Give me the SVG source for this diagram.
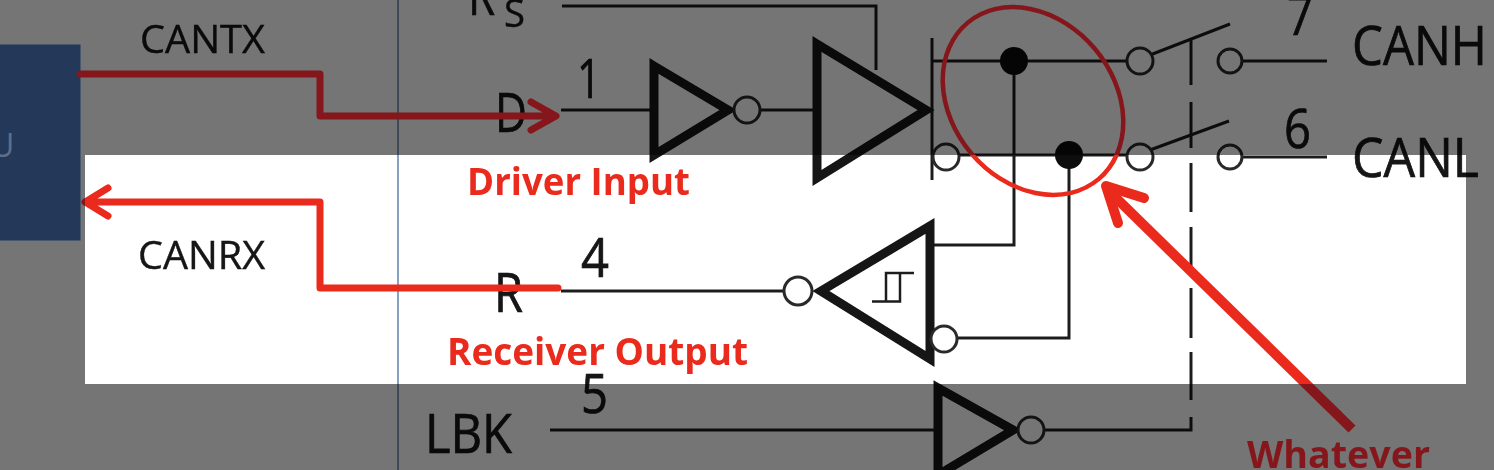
<svg xmlns="http://www.w3.org/2000/svg" xmlns:xlink="http://www.w3.org/1999/xlink" width="1494" height="470" viewBox="0 0 1494 470">
<style>
.t{font-family:"Open Sans","Liberation Sans",sans-serif;fill:#141414;stroke:#141414;stroke-width:.7;font-size:54px}
.s{font-size:39px;stroke-width:.4}
.r{font-family:"Open Sans","Liberation Sans",sans-serif;font-weight:700;font-size:38px;fill:currentColor}
.w{fill:none;stroke:#1e1e1e;stroke-width:3}
.g{fill:none;stroke:#141414;stroke-width:9;stroke-linejoin:miter}
.b{fill:#fff;stroke:#2a2a2a;stroke-width:3}
.d{fill:#111}
.a{fill:none;stroke:currentColor;stroke-width:7;stroke-linejoin:round;stroke-linecap:round}
</style>
<defs>
<filter id="soft" x="0" y="0" width="1" height="1" filterUnits="objectBoundingBox"><feGaussianBlur stdDeviation="0.7"/></filter>
<clipPath id="win"><rect x="85" y="155" width="1381" height="229"/></clipPath>
<clipPath id="out"><path clip-rule="evenodd" d="M0 0H1494V470H0ZM85 155V384H1466V155Z"/></clipPath>
<g id="reds">
<path class="a" d="M80 74H320V116H553M531 102L556 116L531 130"/>
<path class="a" d="M558 288H320V202H88M108 188L85 202L108 216"/>
<ellipse cx="1033" cy="101" rx="102" ry="81" transform="rotate(50 1033 101)" fill="none" stroke="currentColor" stroke-width="4.500"/>
<path class="a" style="stroke-width:10;stroke-linecap:butt" d="M1352 429L1112 194"/>
<path class="a" style="stroke-width:10" d="M1144 198L1106 186L1118 223"/>
<text class="r" x="467" y="195" textLength="223" lengthAdjust="spacingAndGlyphs">Driver Input</text>
<text class="r" x="447" y="365" textLength="301" lengthAdjust="spacingAndGlyphs">Receiver Output</text>
<text class="r" x="1247" y="468" textLength="183" lengthAdjust="spacingAndGlyphs">Whatever</text>
</g>
</defs>
<rect width="1494" height="470" fill="#fff"/>
<path d="M398 0V470" stroke="#5f82ad" stroke-width="1.500" fill="none"/>

<g filter="url(#soft)">
<rect width="1494" height="470" fill="none"/>
<g id="connectors">
<path class="w" d="M562 6H876V70"/>
<path class="w" d="M561 110H651M759 110H816"/>
<path class="w" d="M932 38V180"/>
<path class="w" d="M932 61H1128M958 155H1128"/>
<path class="w" d="M1014 61V245H934M1069 155V338H957"/>
<path class="w" d="M1150 55L1230 24M1150 150L1229 121"/>
<path class="w" d="M1242 61H1327M1242 157H1327"/>
<path class="w" d="M1191 38V85M1191 102V148M1191 163V212M1191 227V272M1191 288V338M1191 352V400M1191 417V430H1045"/>
<path class="w" d="M561 291H784M550 430H938"/>
</g>

<g id="inverter-d"><path class="g" d="M654 66L728 110L654 155Z"/><circle class="b" cx="747" cy="110" r="13"/></g>
<g id="driver"><path class="g" d="M817 44L926 110L817 178Z"/></g>
<g id="driver-low"><circle class="b" cx="946" cy="157" r="13"/></g>
<g id="junction-h"><circle class="d" cx="1014" cy="61" r="14"/></g>
<g id="junction-l"><circle class="d" cx="1069" cy="155" r="14"/></g>
<g id="switch-h"><circle class="b" cx="1140" cy="61" r="13"/><circle class="b" cx="1230" cy="61" r="12"/></g>
<g id="switch-l"><circle class="b" cx="1140" cy="157" r="13"/><circle class="b" cx="1230" cy="157" r="12"/></g>
<g id="receiver">
<path class="g" d="M821 291L930 226V359Z"/>
<circle class="b" cx="798" cy="291" r="14"/>
<circle class="b" cx="944" cy="339" r="13"/>
<path class="w" style="stroke-width:2.500" d="M872 301.500H900V273M914 273H886V301"/>
</g>
<g id="inverter-lbk"><path class="g" d="M938 388L1013 430L938 475Z"/><circle class="b" cx="1031" cy="430" r="13"/></g>

<g id="labels">
<text class="t" x="468" y="15" textLength="27" lengthAdjust="spacingAndGlyphs">R</text>
<text class="t s" x="504" y="27" textLength="21" lengthAdjust="spacingAndGlyphs">S</text>
<text class="t" x="495" y="132" textLength="32" lengthAdjust="spacingAndGlyphs">D</text>
<text class="t" x="577" y="98" textLength="24" lengthAdjust="spacingAndGlyphs">1</text>
<text class="t s" x="140" y="53" textLength="125" lengthAdjust="spacingAndGlyphs">CANTX</text>
<text class="t s" x="138" y="269" textLength="127" lengthAdjust="spacingAndGlyphs">CANRX</text>
<text class="t" x="494" y="312" textLength="29" lengthAdjust="spacingAndGlyphs">R</text>
<text class="t" x="581" y="277" textLength="28" lengthAdjust="spacingAndGlyphs">4</text>
<text class="t" x="581" y="413" textLength="27" lengthAdjust="spacingAndGlyphs">5</text>
<text class="t" x="425" y="453" textLength="87" lengthAdjust="spacingAndGlyphs">LBK</text>
<text class="t" x="1287" y="35" textLength="26" lengthAdjust="spacingAndGlyphs">7</text>
<text class="t" x="1284" y="148" textLength="27" lengthAdjust="spacingAndGlyphs">6</text>
<text class="t" x="1352" y="65" textLength="135" lengthAdjust="spacingAndGlyphs">CANH</text>
<text class="t" x="1352" y="177" textLength="127" lengthAdjust="spacingAndGlyphs">CANL</text>
</g>
</g>

<path d="M0 0H1494V470H0ZM85 155V384H1466V155Z" fill-rule="evenodd" fill="#000" fill-opacity=".54"/>

<g id="mcu">
<rect x="-4" y="45" width="84" height="195" fill="#24395a" stroke="#1c3a60" stroke-width="1"/>
<text x="-9" y="157" font-family="Open Sans, sans-serif" font-size="32" fill="#5d6f88">U</text>
</g>

<g id="annotations" filter="url(#soft)">
<rect width="1494" height="470" fill="none"/>
<use href="#reds" clip-path="url(#out)" color="#84181a"/>
<use href="#reds" clip-path="url(#win)" color="#ea2a1b"/>
</g>
</svg>
